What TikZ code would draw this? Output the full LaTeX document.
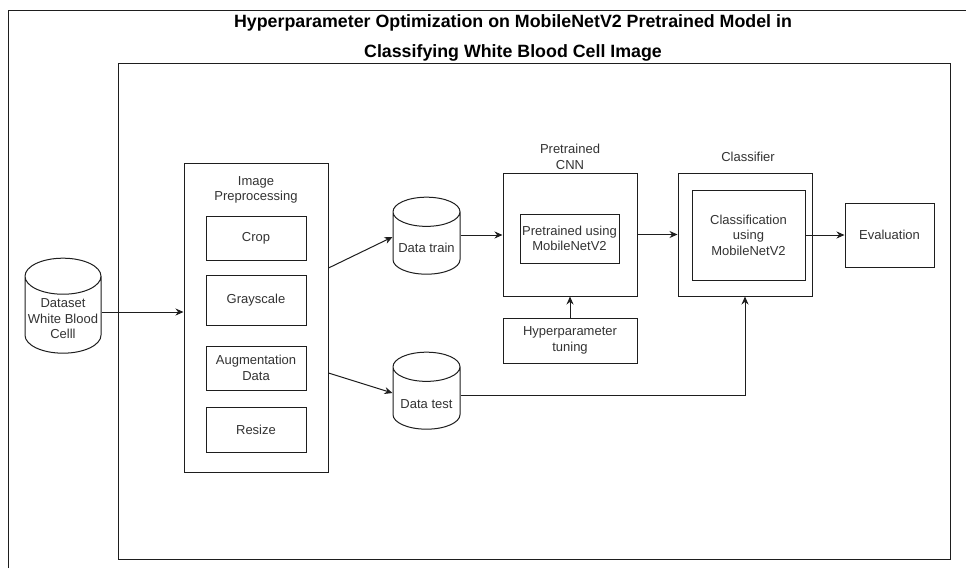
\documentclass[tikz,border=0pt]{standalone}
\usepackage{fontspec}
\setmainfont{Liberation Sans}
\usepackage{tikz}
\usetikzlibrary{arrows.meta,positioning,shapes.geometric}
\definecolor{tinta}{RGB}{51,51,51}
\definecolor{linha}{RGB}{30,30,30}
\tikzset{
  caixa/.style={rectangle,draw=linha,line width=1pt,fill=white,align=center,
    inner sep=2pt,text=tinta,font=\fontsize{13}{15.5}\selectfont},
  banco/.style={cylinder,shape border rotate=90,aspect=0.5,draw=linha,line width=1pt,
    fill=white,inner sep=1pt,font=\fontsize{13}{15.5}\selectfont},
  rotulo/.style={align=center,inner sep=0pt,text=tinta,font=\fontsize{13}{15.5}\selectfont},
  seta/.style={-{Stealth[length=8pt,width=7pt]},line width=1pt,linha}
}
\begin{document}
\begin{tikzpicture}[x=1pt,y=-1pt]
\useasboundingbox (0,0) rectangle (966,568);
% outer frame, cut by the page
\draw[linha,line width=1pt] (8,568) -- (8,10) -- (966,10);
\node[align=center,inner sep=0pt,text=black,font=\fontsize{17.8}{30}\selectfont\bfseries]
  (title) at (513,38) {Hyperparameter Optimization on MobileNetV2 Pretrained Model in\\
  Classifying White Blood Cell Image};
\node[caixa,minimum width=832pt,minimum height=496pt] (frame) at (534,311) {};

% input
\node[banco,minimum width=76pt,minimum height=95pt,
  label={[rotulo,yshift=-2pt]center:Dataset\\White Blood\\Celll}] (dataset) at (63,317)
  {\phantom{White Blood}};

% preprocessing
\node[caixa,minimum width=144pt,minimum height=309pt] (prep) at (256,317.5) {};
\node[rotulo] (preplbl) at (256,190) {Image\\Preprocessing};
\node[caixa,minimum width=100pt,minimum height=44pt] (crop) at (256,238) {Crop};
\node[caixa,minimum width=100pt,minimum height=50pt] (gray) at (256,300) {Grayscale};
\node[caixa,minimum width=100pt,minimum height=44pt] (aug) at (256,368) {Augmentation\\Data};
\node[caixa,minimum width=100pt,minimum height=45pt] (resize) at (256,429.5) {Resize};

% data split
\node[banco,minimum width=67pt,minimum height=77pt,
  label={[rotulo,yshift=-3pt]center:Data train}] (train) at (426.5,245) {\phantom{Data train}};
\node[banco,minimum width=67pt,minimum height=77pt,
  label={[rotulo,yshift=-4pt]center:Data test}] (test) at (426.5,400) {\phantom{Data train}};

% pretrained cnn
\node[caixa,minimum width=134pt,minimum height=123pt] (cnn) at (570,234.5) {};
\node[rotulo] (cnnlbl) at (570,157) {Pretrained\\CNN};
\node[caixa,minimum width=99pt,minimum height=49pt] (cnnin) at (569.5,238.5)
  {Pretrained using\\MobileNetV2};
\node[caixa,minimum width=134pt,minimum height=45pt] (hyper) at (570,340.5)
  {Hyperparameter\\tuning};

% classifier
\node[caixa,minimum width=134pt,minimum height=123pt] (clf) at (745,234.5) {};
\node[rotulo] (clflbl) at (748,157) {Classifier};
\node[caixa,minimum width=113pt,minimum height=90pt] (clfin) at (748.5,235)
  {Classification\\using\\MobileNetV2};
\node[caixa,minimum width=89pt,minimum height=64pt] (eval) at (889.5,235) {Evaluation};

% arrows
\draw[seta] ([yshift=5pt]dataset.east) -- ([yshift=5pt]dataset.east -| prep.west);
\draw[seta] ([yshift=49.5pt]prep.east) -- ([yshift=8pt]train.west);
\draw[seta] ([yshift=-55.5pt]prep.east) -- ([yshift=7pt]test.west);
\draw[seta] ([yshift=10pt]train.east) -- ([yshift=10pt]train.east -| cnn.west);
\draw[seta] (cnn.east) -- (clf.west);
\draw[seta] (clfin.east) -- (eval.west);
\draw[seta] (hyper.north) -- (cnn.south);
\draw[seta] ([yshift=5pt]test.east) -| (clf.south);
\end{tikzpicture}
\end{document}
